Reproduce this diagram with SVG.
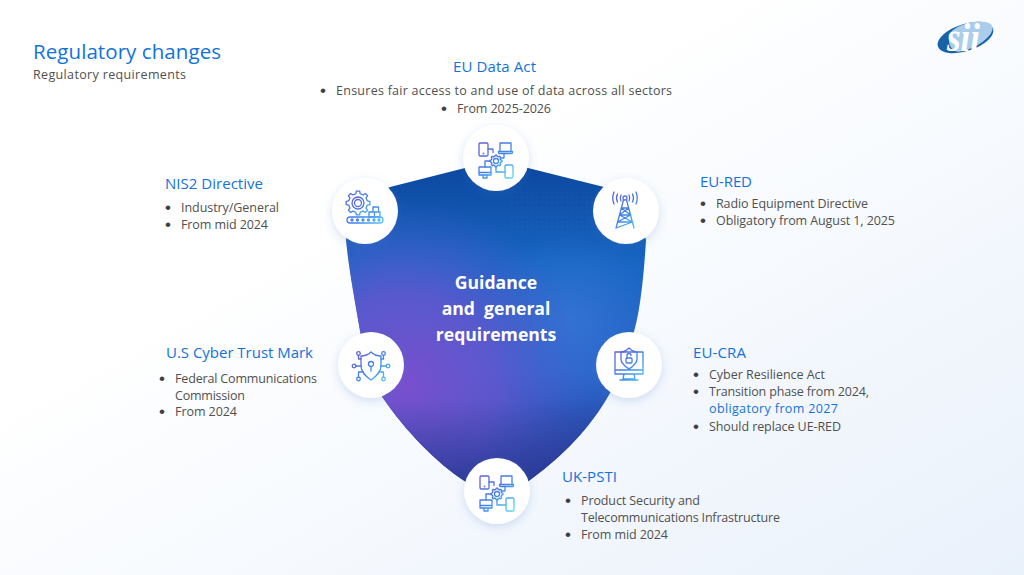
<svg xmlns="http://www.w3.org/2000/svg" width="1024" height="575" viewBox="0 0 1024 575">
<style>
text{font-family:"Open Sans","Noto Sans","Liberation Sans",sans-serif}
.h{font-size:15px;fill:#1272dc}
.b{font-size:12.5px;fill:#505050}
.d{font-size:17px;fill:#404040;font-family:"Liberation Sans",sans-serif}
.lnk{fill:#1272dc}
.c{font-size:17.6px;font-weight:700;fill:#fff;text-anchor:middle}
.disc{fill:#fff;filter:url(#sh)}
.i{fill:none;stroke:url(#ig);stroke-width:1.3;stroke-linejoin:round;stroke-linecap:round}
</style>
<defs>
<linearGradient id="bg" x1="0" y1="0" x2="1" y2="1"><stop offset=".35" stop-color="#fff"/><stop offset="1" stop-color="#e9f1fb"/></linearGradient>
<linearGradient id="ig" gradientUnits="userSpaceOnUse" x1="-18" y1="-18" x2="18" y2="20"><stop offset="0" stop-color="#6a55d6"/><stop offset=".55" stop-color="#3f86ea"/><stop offset="1" stop-color="#62dcf2"/></linearGradient>
<linearGradient id="s1" gradientUnits="userSpaceOnUse" x1="500" y1="165" x2="500" y2="500"><stop offset="0" stop-color="#0c479f"/><stop offset=".3" stop-color="#1766c2"/><stop offset=".62" stop-color="#2a63c8"/><stop offset="1" stop-color="#293a98"/></linearGradient>
<radialGradient id="s2" gradientUnits="userSpaceOnUse" cx="405" cy="385" r="185"><stop offset="0" stop-color="#7a4fce"/><stop offset=".5" stop-color="#6a55cf" stop-opacity=".75"/><stop offset="1" stop-color="#4a5fd0" stop-opacity="0"/></radialGradient>
<radialGradient id="s3" gradientUnits="userSpaceOnUse" cx="570" cy="320" r="90"><stop offset="0" stop-color="#3a78d8" stop-opacity=".7"/><stop offset="1" stop-color="#3a78d8" stop-opacity="0"/></radialGradient>
<linearGradient id="s4" gradientUnits="userSpaceOnUse" x1="0" y1="400" x2="0" y2="490"><stop offset="0" stop-color="#2c3a98" stop-opacity="0"/><stop offset="1" stop-color="#27368f" stop-opacity=".85"/></linearGradient>
<pattern id="dots" width="5" height="5" patternUnits="userSpaceOnUse"><circle cx="2" cy="2" r=".6" fill="#fff" fill-opacity=".08"/></pattern>
<filter id="sh" x="-30%" y="-30%" width="160%" height="160%"><feDropShadow dx="0" dy="3" stdDeviation="5" flood-color="#3d74c8" flood-opacity=".22"/></filter>
<path id="gear" d="M9.26 -2.14L11.88 -1.67V1.67L9.26 2.14L8.06 5.03L9.58 7.22L7.22 9.58L5.03 8.06L2.14 9.26L1.67 11.88H-1.67L-2.14 9.26L-5.03 8.06L-7.22 9.58L-9.58 7.22L-8.06 5.03L-9.26 2.14L-11.88 1.67V-1.67L-9.26 -2.14L-8.06 -5.03L-9.58 -7.22L-7.22 -9.58L-5.03 -8.06L-2.14 -9.26L-1.67 -11.88H1.67L2.14 -9.26L5.03 -8.06L7.22 -9.58L9.58 -7.22L8.06 -5.03Z"/>
<g id="net" class="i">
<rect x="-17" y="-15" width="9" height="13" rx="1.200"/><circle cx="-12.500" cy="-4.500" r=".3"/>
<path d="M4 -15h11v8.500h-11zM2.500 -6.500h14v1a1 1 0 0 1-1 1h-12a1 1 0 0 1-1-1z"/>
<path d="M-8 -9h5v3.500M8 -4.500v4.500h-2.500M-6 3h-5v6"/>
<g transform="translate(0 3) scale(.5)" style="stroke-width:2.600"><use href="#gear"/><circle r="5"/></g>
<path d="M-17 9h12v8h-12zM-17 14.500h12M-13 17v3h4v-3"/>
<path d="M0 9v5h9"/><rect x="9" y="7" width="8" height="13" rx="1.300"/>
</g>
</defs>
<rect width="1024" height="575" fill="url(#bg)"/>
<g id="logo">
<ellipse cx="965.500" cy="37.500" rx="29" ry="13.500" transform="rotate(-18 965.500 37.500)" fill="#1763a8"/>
<path d="M950 33C958 24 975 20 985 22C994 23 995 30 988 37C982 44 970 50 958 52C950 50 947 42 950 33Z" fill="#a9cdea"/>
<text x="947" y="51" font-size="40" font-style="italic" font-weight="700" fill="#fff" style="font-family:'Liberation Serif',serif" textLength="33" lengthAdjust="spacingAndGlyphs">sii</text>
</g>
<g id="title">
<text x="33" y="59" font-size="20.500" fill="#1272dc" textLength="188">Regulatory changes</text>
<text x="33" y="79" font-size="12.500" fill="#505050" textLength="153">Regulatory requirements</text>
</g>
<g id="shield">
<path d="M390 187L465 168Q496 160 528 168L604 187Q638 205 646 240C643 290 638 320 633 335C624 365 615 385 606 400C585 435 555 462 530 480L497 506L466 482C435 462 405 430 383 398C372 380 364 355 359 325C354 295 349 270 346 240Q350 205 390 187Z" fill="url(#s1)"/>
<path d="M390 187L465 168Q496 160 528 168L604 187Q638 205 646 240C643 290 638 320 633 335C624 365 615 385 606 400C585 435 555 462 530 480L497 506L466 482C435 462 405 430 383 398C372 380 364 355 359 325C354 295 349 270 346 240Q350 205 390 187Z" fill="url(#s3)"/>
<path d="M390 187L465 168Q496 160 528 168L604 187Q638 205 646 240C643 290 638 320 633 335C624 365 615 385 606 400C585 435 555 462 530 480L497 506L466 482C435 462 405 430 383 398C372 380 364 355 359 325C354 295 349 270 346 240Q350 205 390 187Z" fill="url(#s2)"/>
<path d="M390 187L465 168Q496 160 528 168L604 187Q638 205 646 240C643 290 638 320 633 335C624 365 615 385 606 400C585 435 555 462 530 480L497 506L466 482C435 462 405 430 383 398C372 380 364 355 359 325C354 295 349 270 346 240Q350 205 390 187Z" fill="url(#s4)"/>
<rect x="510" y="190" width="95" height="45" fill="url(#dots)"/>
<text class="c" x="496" y="289">Guidance</text>
<text class="c" x="496" y="315" xml:space="preserve">and  general</text>
<text class="c" x="496" y="341">requirements</text>
</g>
<g id="eu-data-act">
<circle class="disc" cx="496" cy="158" r="33"/>
<use href="#net" transform="translate(496 158)"/>
<text class="h" x="453" y="72" textLength="83">EU Data Act</text>
<text class="d" x="320" y="96">•</text><text class="b" x="336" y="95" textLength="336">Ensures fair access to and use of data across all sectors</text>
<text class="d" x="441" y="114">•</text><text class="b" x="457" y="113" textLength="94">From 2025-2026</text>
</g>
<g id="nis2">
<circle class="disc" cx="365" cy="211" r="33"/>
<g class="i" transform="translate(365 211)">
<use href="#gear" transform="translate(-7 -8)"/>
<circle cx="-7" cy="-8" r="6"/><circle cx="-7" cy="-8" r="3.500"/>
<path d="M8 -4h5.500v5h-5.500zM4 1h5.500v5h-5.500zM9.500 1h5.500v5h-5.500z"/>
<rect x="-18" y="6" width="36" height="6" rx="3"/>
<circle cx="-13" cy="9" r="1"/><circle cx="-7.500" cy="9" r="1"/><circle cx="-2" cy="9" r="1"/><circle cx="3.500" cy="9" r="1"/><circle cx="9" cy="9" r="1"/><circle cx="14" cy="9" r="1"/>
</g>
<text class="h" x="165" y="189" textLength="98">NIS2 Directive</text>
<text class="d" x="165" y="213">•</text><text class="b" x="181" y="212" textLength="98">Industry/General</text>
<text class="d" x="165" y="230">•</text><text class="b" x="181" y="229" textLength="87">From mid 2024</text>
</g>
<g id="eu-red">
<circle class="disc" cx="626" cy="211" r="33"/>
<g class="i" transform="translate(625 211)">
<circle cx="0" cy="-13" r="2"/>
<path d="M-4 -16q-1.500 3 0 6M4 -16q1.500 3 0 6M-7.500 -17q-2 4 0 8M7.500 -17q2 4 0 8M-11 -19q-2.500 6 0 12M11 -19q2.500 6 0 12"/>
<path d="M-1.500 -11L-9 17M1.500 -11L9 17M-3.500 -3H3.500L-5.500 4H5.500L-7.500 11H7.500L-9 17M3.500 -3L-5.500 4M-3.500 -3L5.500 4M-5.500 4L7.500 11M5.500 4L-7.500 11M7.500 11L9 17"/>
</g>
<text class="h" x="700" y="187" textLength="52">EU-RED</text>
<text class="d" x="700" y="209">•</text><text class="b" x="716" y="208" textLength="152">Radio Equipment Directive</text>
<text class="d" x="700" y="226">•</text><text class="b" x="716" y="225" textLength="179">Obligatory from August 1, 2025</text>
</g>
<g id="us-cyber-trust">
<circle class="disc" cx="371" cy="365" r="33"/>
<g class="i" transform="translate(371 366)">
<path d="M0 -14C4 -10 8 -10 10 -10V0C10 7 4 11 0 14C-4 11 -10 7 -10 0V-10C-8 -10 -4 -10 0 -14Z"/>
<circle cx="0" cy="-2" r="2.500"/><path d="M0 .5V5"/>
<circle cx="-12.500" cy="-12.500" r="1.800"/><circle cx="12.500" cy="-12.500" r="1.800"/><circle cx="-17" cy="0" r="1.800"/><circle cx="17" cy="0" r="1.800"/><circle cx="-12.500" cy="13" r="1.800"/><circle cx="12.500" cy="13" r="1.800"/>
<path d="M-12.500 -10.500V-7H-10M12.500 -10.500V-7H10M-15 0H-10M15 0H10M-12.500 11V6H-8M12.500 11V6H8"/>
</g>
<text class="h" x="166" y="358" textLength="147">U.S Cyber Trust Mark</text>
<text class="d" x="159" y="384">•</text><text class="b" x="175" y="383" textLength="142">Federal Communications</text>
<text class="b" x="175" y="400" textLength="70">Commission</text>
<text class="d" x="159" y="417">•</text><text class="b" x="175" y="416" textLength="62">From 2024</text>
</g>
<g id="eu-cra">
<circle class="disc" cx="629" cy="365" r="33"/>
<g class="i" transform="translate(629 365)">
<path d="M-14 -13H14V9H-14zM-14 5H14M-5 9L-6 14H6L5 9M-9 15H9"/>
<path d="M0 -17C3 -14 6 -13 8 -13V-6C8 -1 3 2 0 4C-3 2 -8 -1 -8 -6V-13C-6 -13 -3 -14 0 -17Z"/>
<rect x="-3" y="-7" width="6" height="5" rx="1"/><path d="M-2 -7V-9.500A2 2 0 0 1 2 -9.500"/>
</g>
<text class="h" x="693" y="358" textLength="53">EU-CRA</text>
<text class="d" x="693" y="380">•</text><text class="b" x="709" y="379" textLength="116">Cyber Resilience Act</text>
<text class="d" x="693" y="397">•</text><text class="b" x="709" y="396" textLength="160">Transition phase from 2024,</text>
<text class="b lnk" x="709" y="413" textLength="129">obligatory from 2027</text>
<text class="d" x="693" y="432">•</text><text class="b" x="709" y="431" textLength="132">Should replace UE-RED</text>
</g>
<g id="uk-psti">
<circle class="disc" cx="497" cy="491" r="33"/>
<use href="#net" transform="translate(497 491)"/>
<text class="h" x="562" y="482" textLength="55">UK-PSTI</text>
<text class="d" x="565" y="506">•</text><text class="b" x="581" y="505" textLength="119">Product Security and</text>
<text class="b" x="581" y="522" textLength="199">Telecommunications Infrastructure</text>
<text class="d" x="565" y="540">•</text><text class="b" x="581" y="539" textLength="87">From mid 2024</text>
</g>
</svg>
